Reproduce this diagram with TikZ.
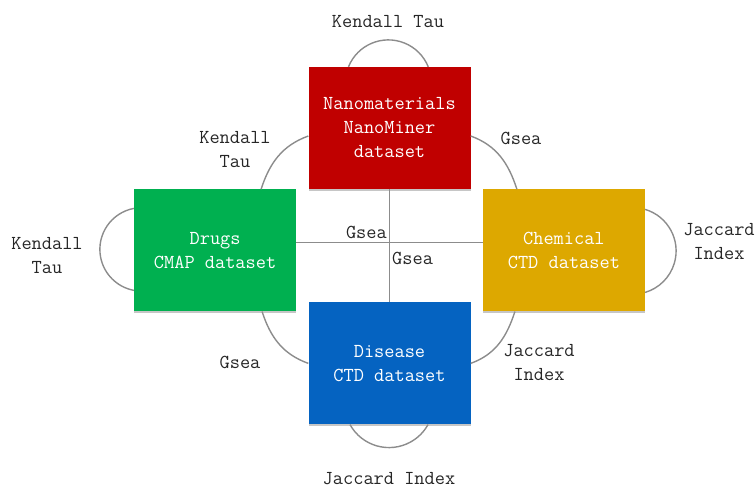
\documentclass[tikz,border=0pt]{standalone}
\usetikzlibrary{positioning,shadows}
\definecolor{nanored}{HTML}{C00000}
\definecolor{druggreen}{HTML}{00B050}
\definecolor{chemgold}{HTML}{DDA800}
\definecolor{disblue}{HTML}{0563C1}

\begin{document}
\begin{tikzpicture}[
  x=1pt, y=1pt,
  box/.style={
    minimum width=162pt, minimum height=122pt,
    inner sep=0pt, align=center, text=white,
    font=\fontsize{19.8}{24}\selectfont\ttfamily,
    drop shadow={shadow xshift=0pt, shadow yshift=-2pt, opacity=.45}
  },
  lbl/.style={font=\fontsize{19.8}{24}\selectfont\ttfamily, text=black!85, align=center, inner sep=0pt},
  link/.style={draw=black!45, line width=1.4pt}
]
\useasboundingbox (0,0) rectangle (756,488);

% --- Datasets ---
\node[box, fill=nanored] (nano) at (389.5,360) {Nanomaterials\\NanoMiner\\dataset};
\node[box, fill=druggreen, below left=0pt and 12pt of nano] (drugs) {Drugs\\CMAP dataset};
\node[box, fill=chemgold, below right=0pt and 12pt of nano] (chem) {Chemical\\CTD dataset};
\node[box, fill=disblue, below=113pt of nano] (disease) {Disease\\CTD dataset};

% --- Cross links ---
\begin{scope}[on background layer/.try]
\draw[link] ([yshift=8pt]drugs.east) -- ([yshift=8pt]chem.west);
\draw[link] (nano.south) -- (disease.north);
\end{scope}

% --- Neighbour arcs ---
\draw[link] ([xshift=46pt]drugs.north) to[out=72, in=200] ([yshift=-8pt]nano.west);
\draw[link] ([yshift=-8pt]nano.east) to[out=-20, in=108] ([xshift=-47pt]chem.north);
\draw[link] ([xshift=47pt]drugs.south) to[out=-72, in=160] (disease.west);
\draw[link] ([xshift=-49pt]chem.south) to[out=252, in=20] (disease.east);

% --- Self loops ---
\draw[link] ([xshift=-41pt]nano.north) arc[start angle=158, end angle=22, radius=43];
\draw[link] ([yshift=42pt]drugs.west) arc[start angle=100.6, end angle=259.4, radius=41.7];
\draw[link] ([yshift=41pt]chem.east) arc[start angle=73.5, end angle=-73.5, radius=43.3];
\draw[link] ([xshift=-39.5pt]disease.south) arc[start angle=209, end angle=331, radius=44.6];

% --- Labels ---
\node[lbl] (ltop) at (388,466) {Kendall Tau};
\node[lbl] (lnw) at (235,338) {Kendall\\Tau};
\node[lbl] (lne) at (521,350) {Gsea};
\node[lbl] (lleft) at (47,232) {Kendall\\Tau};
\node[lbl] (lright) at (719,246) {Jaccard\\Index};
\node[lbl, anchor=east] (lmid1) at (387,256) {Gsea};
\node[lbl, anchor=west] (lmid2) at (392,230) {Gsea};
\node[lbl] (lsw) at (240,126) {Gsea};
\node[lbl] (lse) at (539,125) {Jaccard\\Index};
\node[lbl] (lbot) at (389,9) {Jaccard Index};

\end{tikzpicture}
\end{document}
